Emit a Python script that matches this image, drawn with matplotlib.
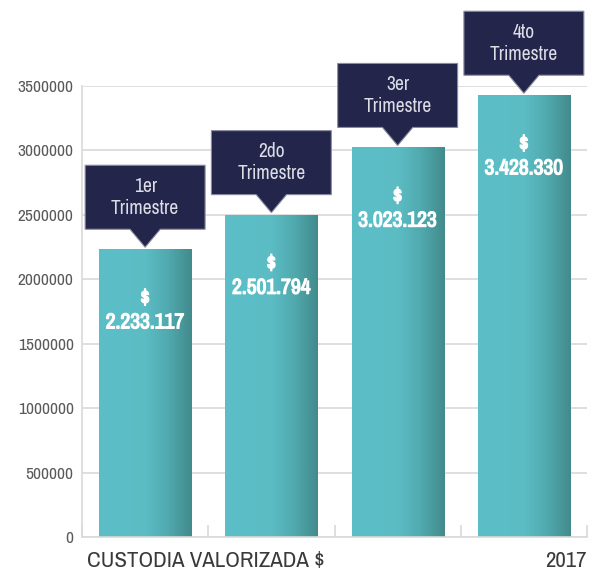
import numpy as np
import matplotlib
matplotlib.use("Agg")
from matplotlib import pyplot as plt
from matplotlib import font_manager
from matplotlib import patheffects as pe
from matplotlib.colors import LinearSegmentedColormap
from matplotlib.patches import Polygon

# look for a narrow / condensed face, else use DejaVu Sans condensed
names = sorted({f.name for f in font_manager.fontManager.ttflist})
narrow = [n for n in names if "Narrow" in n or "Condensed" in n]
fam = narrow[0] if narrow else "DejaVu Sans"
plt.rcParams['font.family'] = [fam, 'DejaVu Sans']
plt.rcParams['font.stretch'] = 'condensed'

# Data
quarters = ["1er\nTrimestre", "2do\nTrimestre", "3er\nTrimestre", "4to\nTrimestre"]
values = [2233117, 2501794, 3023123, 3428330]
value_labels = ["$\n2.233.117", "$\n2.501.794", "$\n3.023.123", "$\n3.428.330"]
yticks = [0, 500000, 1000000, 1500000, 2000000, 2500000, 3000000, 3500000]

navy = "#23264a"
grey_txt = "#595959"
grid_c = "#d9d9d9"

fig = plt.figure(figsize=(5.95, 5.73), dpi=100)
ax = fig.add_axes([82/595, 36/573, 505/595, 451/573])

x = np.arange(len(values))
bw = 0.73
bars = ax.bar(x, values, width=bw, color="none", zorder=2)

# horizontal gradient fill for each bar
cmap = LinearSegmentedColormap.from_list(
    "teal", [(0, "#5cbfc8"), (0.5, "#5bbcc4"), (0.75, "#50a9ae"), (1, "#428a8b")])
grad = np.linspace(0, 1, 256).reshape(1, -1)
for b in bars:
    x0, w, h = b.get_x(), b.get_width(), b.get_height()
    im = ax.imshow(grad, extent=[x0, x0 + w, 0, h], aspect="auto", cmap=cmap,
                   origin="lower", zorder=2)
    im.set_clip_path(b)

ax.set_xlim(-0.5, len(values) - 0.5)
ax.set_ylim(0, 3500000)
ax.set_yticks(yticks)
ax.set_yticklabels([str(v) for v in yticks], color=grey_txt, fontsize=12.5)
ax.yaxis.grid(True, color=grid_c, lw=1.2, zorder=0)
ax.set_axisbelow(True)
ax.tick_params(axis="y", length=0, pad=6)

# category separators on the bottom axis
ax.set_xticks(np.arange(-0.5, len(values)), minor=False)
ax.set_xticklabels([])
ax.tick_params(axis="x", direction="in", length=9, color=grid_c, width=1.2)
for s in ["top", "right"]:
    ax.spines[s].set_visible(False)
for s in ["left", "bottom"]:
    ax.spines[s].set_color(grid_c)
    ax.spines[s].set_linewidth(1.2)

# value labels inside bars
bold = [pe.withStroke(linewidth=0.9, foreground="white")]
for xi, v, lab in zip(x, values, value_labels):
    ax.annotate(lab, (xi, v), xytext=(0, -44), textcoords="offset points",
                ha="center", va="center", color="white", fontsize=15.5,
                fontweight="bold", linespacing=1.25, zorder=4, path_effects=bold)

# callout boxes above bars
px = 3500000 / 451.0  # data units per pixel
box_h = 64 * px
gap = 2 * px
tri_h = 18 * px
box_w = 0.95
tri_w = 0.12
for xi, v, q in zip(x, values, quarters):
    tip = v + gap
    base = tip + tri_h
    poly = Polygon([
        (xi - box_w/2, base), (xi - tri_w, base), (xi, tip), (xi + tri_w, base),
        (xi + box_w/2, base), (xi + box_w/2, base + box_h), (xi - box_w/2, base + box_h)],
        closed=True, facecolor=navy, edgecolor="#8a8ca0", lw=0.8,
        clip_on=False, zorder=5)
    ax.add_patch(poly)
    ax.text(xi, base + box_h/2, q, ha="center", va="center", color="#dcdde6",
            fontsize=14, linespacing=1.2, zorder=6, clip_on=False)

fig.text(87/595, 1 - 561/573, "CUSTODIA VALORIZADA $", ha="left", va="center",
         color="#3a3a3a", fontsize=16.5)
fig.text(587/595, 1 - 561/573, "2017", ha="right", va="center",
         color="#3a3a3a", fontsize=16.5)

fig.savefig("out.png", dpi=100)
